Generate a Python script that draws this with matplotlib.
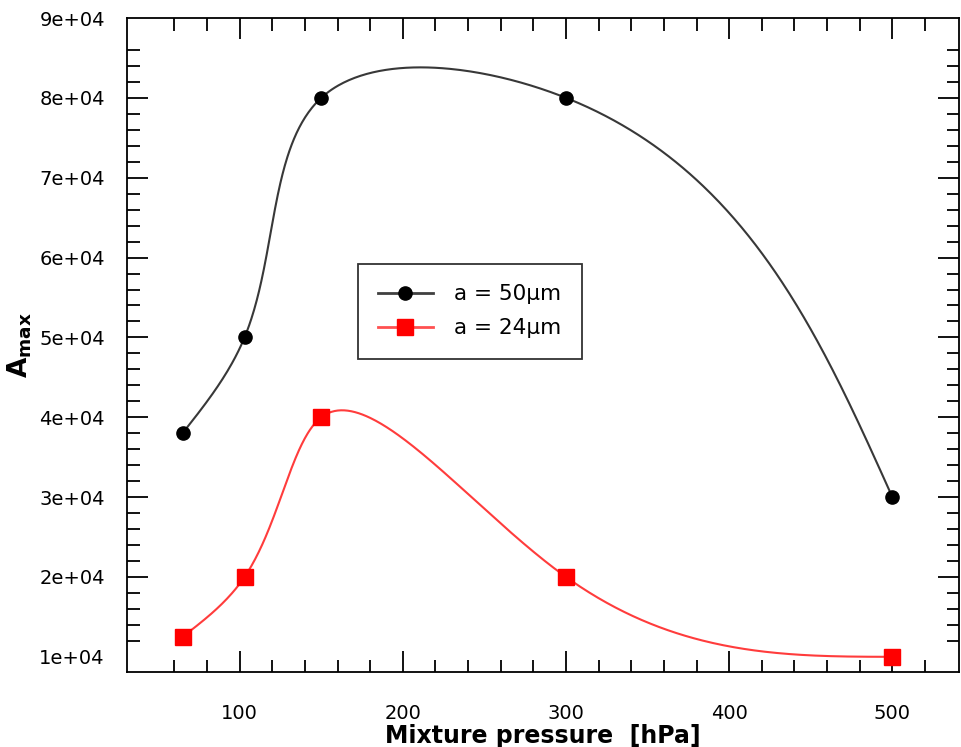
import numpy as np
import matplotlib.pyplot as plt
from matplotlib.ticker import FixedLocator

pressure = [65, 103, 150, 300, 500]
amax_50um = [38000, 50000, 80000, 80000, 30000]
amax_24um = [12500, 20000, 40000, 20000, 10000]

x_ticks = [100, 200, 300, 400, 500]
y_ticks = [10000, 20000, 30000, 40000, 50000, 60000, 70000, 80000, 90000]
y_labels = ["1e+04", "2e+04", "3e+04", "4e+04", "5e+04", "6e+04", "7e+04", "8e+04", "9e+04"]


def natural_1d(t, v, ts):
    k = len(t)
    h = np.diff(t)
    A = np.zeros((k, k))
    b = np.zeros(k)
    A[0, 0] = A[-1, -1] = 1
    for i in range(1, k - 1):
        A[i, i - 1] = h[i - 1]
        A[i, i] = 2 * (h[i - 1] + h[i])
        A[i, i + 1] = h[i]
        b[i] = 3 * ((v[i + 1] - v[i]) / h[i] - (v[i] - v[i - 1]) / h[i - 1])
    c = np.linalg.solve(A, b)
    idx = np.clip(np.searchsorted(t, ts) - 1, 0, k - 2)
    d = ts - t[idx]
    bb = (v[idx + 1] - v[idx]) / h[idx] - h[idx] * (2 * c[idx] + c[idx + 1]) / 3
    dd = (c[idx + 1] - c[idx]) / (3 * h[idx])
    return v[idx] + bb * d + c[idx] * d ** 2 + dd * d ** 3


def smooth_curve(ax, x, y, n=500):
    """Parametric natural spline (chord length, screen space) through the points."""
    pts = ax.transData.transform(np.column_stack([x, y]))
    t = np.concatenate([[0], np.cumsum(np.linalg.norm(np.diff(pts, axis=0), axis=1))])
    ts = np.linspace(0, t[-1], n)
    sx = natural_1d(t, pts[:, 0], ts)
    sy = natural_1d(t, pts[:, 1], ts)
    curve = ax.transData.inverted().transform(np.column_stack([sx, sy]))
    return curve[:, 0], curve[:, 1]


fig = plt.figure(figsize=(9.61, 7.47), dpi=100)
ax = fig.add_axes([0.1322, 0.1004, 0.866, 0.8755])
ax.set_xlim(31, 541)
ax.set_ylim(8100, 90000)

xs, ys = smooth_curve(ax, pressure, amax_50um)
ax.plot(xs, ys, color="#383838", lw=1.5)
ax.plot(pressure, amax_50um, "o", color="black", ms=9.5)

xs, ys = smooth_curve(ax, pressure, amax_24um)
ax.plot(xs, ys, color="#ff3c3c", lw=1.5)
ax.plot(pressure, amax_24um, "s", color="#ff0000", ms=11)

# legend proxies
ax.plot([], [], "-o", color="#404040", mfc="black", mec="black", ms=9.5, lw=2, label="a = 50µm")
ax.plot([], [], "-s", color="#ff5050", mfc="#ff0000", mec="#ff0000", ms=11, lw=2, label="a = 24µm")
leg = ax.legend(loc="upper left", bbox_to_anchor=(0.277, 0.624), borderaxespad=0,
                fontsize=15.5, frameon=True, fancybox=False, edgecolor="black",
                handlelength=2.55, borderpad=0.95, labelspacing=0.65, handletextpad=1.0)
leg.get_frame().set_linewidth(1.3)

ax.set_xticks(x_ticks)
ax.set_yticks(y_ticks)
ax.set_yticklabels(y_labels)
ax.xaxis.set_minor_locator(FixedLocator(np.arange(60, 540, 20)))
ax.yaxis.set_minor_locator(FixedLocator(np.arange(12000, 88000, 2000)))
ax.tick_params(which="both", direction="in", top=True, right=True, labelsize=14, width=1.3)
ax.tick_params(which="major", length=15)
ax.tick_params(which="minor", length=9)
ax.tick_params(axis="y", pad=16)
ax.tick_params(axis="x", pad=23)
for t in (ax.yaxis.get_major_ticks()[0], ax.yaxis.get_major_ticks()[-1]):
    t.tick1line.set_visible(False)
    t.tick2line.set_visible(False)
for s in ax.spines.values():
    s.set_linewidth(1.3)

ax.set_xlabel("Mixture pressure  [hPa]", fontsize=17, fontweight="bold")
ax.xaxis.set_label_coords(0.5, -0.079)
ax.set_ylabel(r"$\mathbf{A}_{\mathbf{max}}$", fontsize=19, labelpad=4)

fig.savefig("out.png", dpi=100)
